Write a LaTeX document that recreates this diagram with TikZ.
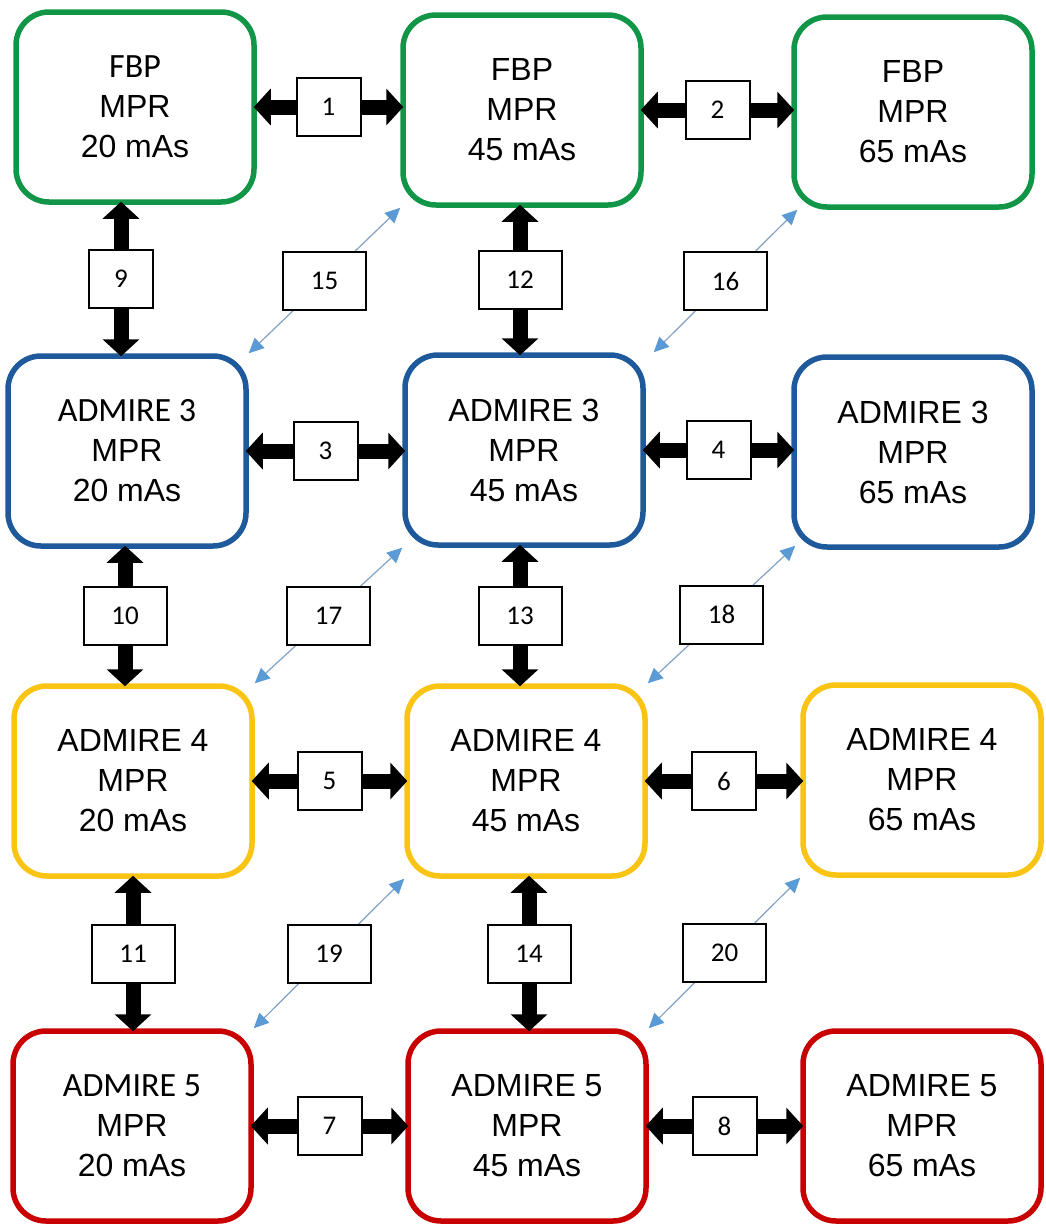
\documentclass[tikz,border=0pt]{standalone}
\usepackage{fontspec}
\setmainfont{Liberation Sans}
\newfontfamily\calfont{Carlito}
\usetikzlibrary{arrows.meta}
\definecolor{cgreen}{RGB}{16,150,70}
\definecolor{cblue}{RGB}{30,90,155}
\definecolor{cyellow}{RGB}{250,196,20}
\definecolor{cred}{RGB}{200,0,0}
\definecolor{tipblue}{RGB}{91,155,213}
\definecolor{lineblue}{RGB}{130,160,195}
\tikzset{
  box/.style={rectangle, rounded corners=33pt, line width=5.5pt, fill=white,
    minimum width=238pt, minimum height=190pt, inner sep=0pt, align=center,
    font=\fontsize{32}{40}\selectfont},
  big/.style={line width=15pt, shorten <=-3pt, shorten >=-3pt,
    {Triangle[length=17pt,width=36pt]}-{Triangle[length=17pt,width=36pt]}},
  diag/.style={line width=1.2pt, draw=lineblue,
    {Triangle[length=15pt,width=14pt,color=tipblue]}-{Triangle[length=15pt,width=14pt,color=tipblue]}},
  numbox/.style={draw=black, line width=2pt, fill=white, minimum width=64pt,
    minimum height=58pt, inner sep=0pt, font=\calfont\fontsize{27}{27}\selectfont},
  wnum/.style={numbox, minimum width=83pt}
}
\newcommand{\cfl}[1]{{\calfont\fontsize{34}{40}\selectfont #1}}
\begin{document}
\begin{tikzpicture}[x=1pt,y=-1pt]
\useasboundingbox (0,0) rectangle (1046,1224);
% row 1
\node[box,draw=cgreen] (r1c1) at (135,107) {\cfl{FBP}\\MPR\\20 mAs};
\node[box,draw=cgreen] (r1c2) at (522,110) {FBP\\MPR\\45 mAs};
\node[box,draw=cgreen] (r1c3) at (913,112) {FBP\\MPR\\65 mAs};
% row 2
\node[box,draw=cblue] (r2c1) at (127,451) {\cfl{ADMIRE 3}\\MPR\\20 mAs};
\node[box,draw=cblue] (r2c2) at (524,450) {ADMIRE 3\\MPR\\45 mAs};
\node[box,draw=cblue] (r2c3) at (913,452) {ADMIRE 3\\MPR\\65 mAs};
% row 3
\node[box,draw=cyellow] (r3c1) at (133,781) {ADMIRE 4\\MPR\\20 mAs};
\node[box,draw=cyellow] (r3c2) at (526,781) {ADMIRE 4\\MPR\\45 mAs};
\node[box,draw=cyellow] (r3c3) at (922,780) {ADMIRE 4\\MPR\\65 mAs};
% row 4
\node[box,draw=cred] (r4c1) at (132,1126) {\cfl{ADMIRE 5}\\MPR\\20 mAs};
\node[box,draw=cred] (r4c2) at (527,1126) {ADMIRE 5\\MPR\\45 mAs};
\node[box,draw=cred] (r4c3) at (922,1126) {ADMIRE 5\\MPR\\65 mAs};

% horizontal arrows
\draw[big] (r1c1.east) -- node[numbox] {1} (r1c1.east -| r1c2.west);
\draw[big] (r1c2.east) -- node[numbox] {2} (r1c2.east -| r1c3.west);
\draw[big] (r2c1.east) -- node[numbox] {3} (r2c1.east -| r2c2.west);
\draw[big] (r2c2.east) -- node[numbox] {4} (r2c2.east -| r2c3.west);
\draw[big] (r3c1.east) -- node[numbox] {5} (r3c1.east -| r3c2.west);
\draw[big] (r3c2.east) -- node[numbox] {6} (r3c2.east -| r3c3.west);
\draw[big] (r4c1.east) -- node[numbox] {7} (r4c1.east -| r4c2.west);
\draw[big] (r4c2.east) -- node[numbox] {8} (r4c2.east -| r4c3.west);

% vertical arrows
\draw[big] ([xshift=-14pt]r1c1.south) -- node[numbox] {9} ([xshift=-14pt]r1c1.south |- r2c1.north);
\draw[big] ([xshift=-2pt]r2c1.south) -- node[wnum] {10} ([xshift=-2pt]r2c1.south |- r3c1.north);
\draw[big] (r3c1.south) -- node[wnum] {11} (r3c1.south |- r4c1.north);
\draw[big] ([xshift=-2pt]r1c2.south) -- node[wnum] {12} ([xshift=-2pt]r1c2.south |- r2c2.north);
\draw[big] ([xshift=-4pt]r2c2.south) -- node[wnum] {13} ([xshift=-4pt]r2c2.south |- r3c2.north);
\draw[big] ([xshift=3pt]r3c2.south) -- node[wnum] {14} ([xshift=3pt]r3c2.south |- r4c2.north);

% diagonal arrows
\draw[diag] (r2c1.north east) -- node[wnum] {15} (r1c2.south west);
\draw[diag] ([xshift=8pt]r2c2.north east) -- node[wnum] {16} ([xshift=6pt]r1c3.south west);
\draw[diag] (r3c1.north east) -- node[wnum] {17} (r2c2.south west);
\draw[diag] (r3c2.north east) -- node[wnum] {18} ([xshift=4pt,yshift=4pt]r2c3.south west);
\draw[diag] (r4c1.north east) -- node[wnum] {19} (r3c2.south west);
\draw[diag] (r4c2.north east) -- node[wnum] {20} (r3c3.south west);
\end{tikzpicture}
\end{document}
